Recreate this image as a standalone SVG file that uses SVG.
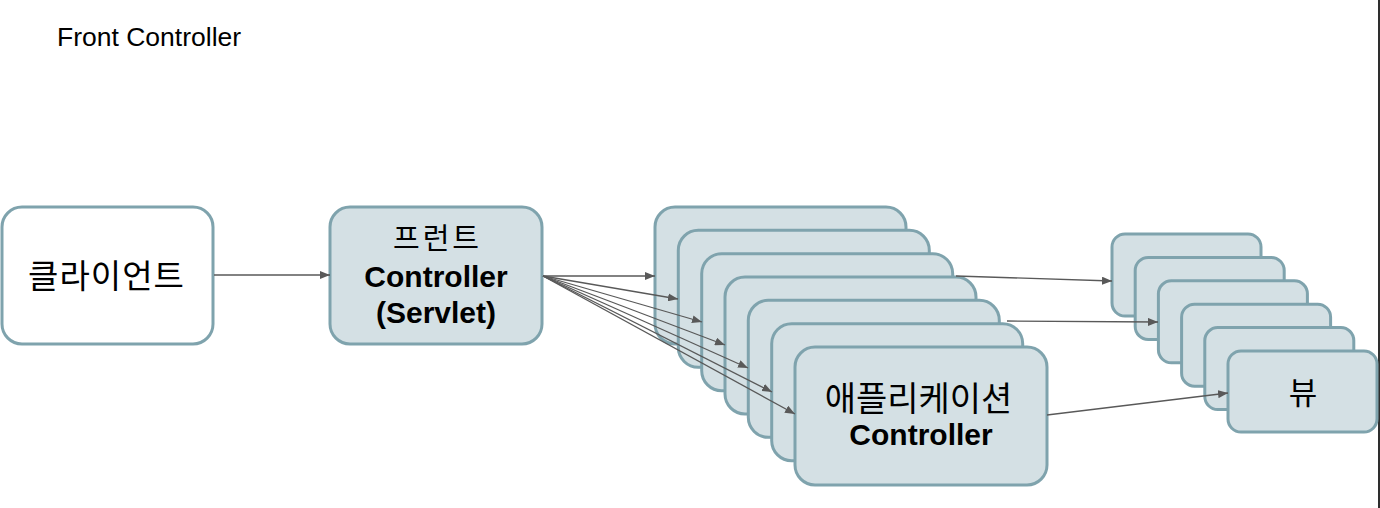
<svg xmlns="http://www.w3.org/2000/svg" width="1380" height="508" viewBox="0 0 1380 508">
<style>
.box{fill:#d4e0e4;stroke:#7fa3ad;stroke-width:3}
.white{fill:#ffffff;stroke:#7fa3ad;stroke-width:3}
.kr{font-family:"Liberation Sans","Noto Sans CJK KR",sans-serif;fill:#000;text-anchor:middle}
.en{font-family:"Liberation Sans",Arial,sans-serif;font-weight:bold;fill:#000;text-anchor:middle}
.conn line{stroke:#595959;stroke-width:1.3;fill:none;marker-end:url(#ah)}
</style>
<defs>
<marker id="ah" markerWidth="10" markerHeight="8" refX="10" refY="4" orient="auto" markerUnits="userSpaceOnUse">
<path d="M0,0 L10,4 L0,8 Z" fill="#595959"/>
</marker>
</defs>
<rect x="0" y="0" width="1380" height="508" fill="#ffffff"/>
<rect x="1378" y="0" width="2" height="508" fill="#2e2e2e"/>
<text x="57" y="46" font-family="Liberation Sans, Arial, sans-serif" font-size="26.5" fill="#000">Front Controller</text>

<g id="client">
<rect class="white" x="2" y="207" width="211" height="137" rx="20"/>
<text class="kr" x="106.5" y="288" font-size="33" letter-spacing="1">클라이언트</text>
</g>

<g id="front-controller">
<rect class="box" x="330" y="207" width="212" height="137" rx="20"/>
<text class="kr" x="437.5" y="249" font-size="29" letter-spacing="3">프런트</text>
<text class="en" x="436" y="287" font-size="30">Controller</text>
<text class="en" x="436" y="323" font-size="30">(Servlet)</text>
</g>

<g id="app-controllers">
<rect class="box" x="655" y="207" width="251" height="137" rx="20"/>
<rect class="box" x="678.3" y="230.3" width="251" height="137" rx="20"/>
<rect class="box" x="701.7" y="253.7" width="251" height="137" rx="20"/>
<rect class="box" x="725" y="277" width="251" height="137" rx="20"/>
<rect class="box" x="748.3" y="300.3" width="251" height="137" rx="20"/>
<rect class="box" x="771.7" y="323.7" width="251" height="137" rx="20"/>
<rect class="box" x="795" y="347" width="252" height="138" rx="20"/>
<text class="kr" x="918.5" y="410.5" font-size="34" letter-spacing="0">애플리케이션</text>
<text class="en" x="921" y="445" font-size="30">Controller</text>
</g>

<g id="views">
<rect class="box" x="1112" y="234" width="149" height="82" rx="13"/>
<rect class="box" x="1135.2" y="257.4" width="149" height="82" rx="13"/>
<rect class="box" x="1158.4" y="280.8" width="149" height="82" rx="13"/>
<rect class="box" x="1181.6" y="304.2" width="149" height="82" rx="13"/>
<rect class="box" x="1204.8" y="327.6" width="149" height="82" rx="13"/>
<rect class="box" x="1228" y="351" width="149" height="81" rx="13"/>
<text class="kr" x="1303" y="404" font-size="31">뷰</text>
</g>

<g id="connectors" class="conn">
<line x1="214" y1="275" x2="330" y2="275"/>
<line x1="543" y1="276" x2="655" y2="276"/>
<line x1="543" y1="276" x2="678" y2="299"/>
<line x1="543" y1="276" x2="702" y2="322"/>
<line x1="543" y1="276" x2="725" y2="345"/>
<line x1="543" y1="276" x2="748" y2="368"/>
<line x1="543" y1="276" x2="772" y2="392"/>
<line x1="543" y1="276" x2="795" y2="414"/>
<line x1="956" y1="276" x2="1112" y2="281"/>
<line x1="1007" y1="321" x2="1158" y2="322"/>
<line x1="1047" y1="415" x2="1228" y2="393"/>
</g>
</svg>
